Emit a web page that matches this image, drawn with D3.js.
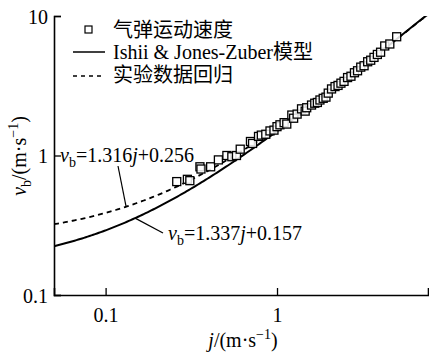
<!DOCTYPE html>
<html><head><meta charset="utf-8">
<script src="https://cdn.jsdelivr.net/npm/d3@7/dist/d3.min.js"></script>
</head>
<body style="margin:0;background:#fff"><svg id="c" width="429" height="353"></svg>
<script>
// Data
const jData  = [0.26,0.30,0.31,0.355,0.36,0.41,0.455,0.51,0.545,0.58,0.61,0.70,0.72,0.78,0.81,0.86,0.91,0.96,1.00,1.04,1.10,1.14,1.22,1.25,1.31,1.39,1.46,1.49,1.59,1.66,1.72,1.78,1.86,1.93,1.99,2.08,2.18,2.27,2.36,2.46,2.58,2.70,2.83,2.95,3.08,3.22,3.38,3.52,3.68,3.85,4.02,4.25,4.55,4.99];
const vbData = [0.65,0.675,0.66,0.83,0.80,0.83,0.93,1.00,0.98,1.00,1.11,1.26,1.22,1.37,1.40,1.42,1.50,1.52,1.61,1.66,1.72,1.68,1.95,1.85,1.98,2.16,2.08,2.20,2.30,2.37,2.40,2.50,2.57,2.62,2.80,3.00,3.12,3.18,3.30,3.40,3.62,3.70,3.92,4.05,4.30,4.40,4.70,4.82,5.05,5.30,5.50,6.10,6.30,7.10];
// Model lines: vb = a*j + b
const modelCoef = [1.337, 0.157];   // Ishii & Jones-Zuber (solid)
const regCoef   = [1.316, 0.256];   // regression (dashed)
const xTicks = [0.1, 1];
const yTicks = [0.1, 1, 10];
const legendLabels = ["气弹运动速度", "Ishii & Jones-Zuber模型", "实验数据回归"];

const FONT = "Liberation Serif";
const svg = d3.select("#c");
const L = 54, R = 428, T = 16, B = 295;
const x = d3.scaleLog().domain([0.05, 7.6]).range([L, R]);
const y = d3.scaleLog().domain([0.1, 10]).range([B, T]);

svg.append("defs").append("clipPath").attr("id","clip")
  .append("rect").attr("x",L).attr("y",T).attr("width",R-L).attr("height",B-T);

// curves
const jLine = d3.range(0, 201).map(i => 0.05 * Math.pow(7.6/0.05, i/200));
const lineGen = c => d3.line().x(d => x(d)).y(d => y(c[0]*d + c[1]))(jLine);
const g = svg.append("g").attr("clip-path","url(#clip)");
g.append("path").attr("d", lineGen(regCoef)).attr("fill","none").attr("stroke","#000")
  .attr("stroke-width",1.8).attr("stroke-dasharray","5,4");
g.append("path").attr("d", lineGen(modelCoef)).attr("fill","none").attr("stroke","#000")
  .attr("stroke-width",2);

// points
const s = 8;
svg.append("g").selectAll("rect").data(jData).join("rect")
  .attr("x",(d,i)=>x(d)-s/2).attr("y",(d,i)=>y(vbData[i])-s/2)
  .attr("width",s).attr("height",s).attr("fill","#fff").attr("fill-opacity",0.85)
  .attr("stroke","#000").attr("stroke-width",1.3);

// axes
const xa = svg.append("g").attr("transform",`translate(0,${B})`)
  .call(d3.axisBottom(x).tickValues(xTicks).tickSize(-7).tickPadding(13).tickFormat(d=>String(d)));
const ya = svg.append("g").attr("transform",`translate(${L},0)`)
  .call(d3.axisLeft(y).tickValues(yTicks).tickSize(-7).tickPadding(6).tickFormat(d=>String(d)));
[xa,ya].forEach(a=>{
  a.attr("font-family", FONT);
  a.select(".domain").attr("stroke","#000").attr("stroke-width",1.6);
  a.selectAll(".tick line").attr("stroke","#000").attr("stroke-width",1.3);
  a.selectAll(".tick text").attr("font-size",20);
});
ya.selectAll(".tick text").attr("dy","0.35em");

// axis titles
const xt = svg.append("text").attr("x",243).attr("y",347).attr("text-anchor","middle").attr("font-size",20);
xt.append("tspan").attr("font-style","italic").text("j");
xt.append("tspan").text("/(m·s");
xt.append("tspan").attr("dy",-8).attr("font-size",14).text("−1");
xt.append("tspan").attr("dy",8).text(")");

const yt = svg.append("text").attr("transform","translate(26,156) rotate(-90)").attr("text-anchor","middle").attr("font-size",20);
yt.append("tspan").attr("font-style","italic").text("v");
yt.append("tspan").attr("dy",5).attr("font-size",14).text("b");
yt.append("tspan").attr("dy",-5).text("/(m·s");
yt.append("tspan").attr("dy",-8).attr("font-size",14).text("−1");
yt.append("tspan").attr("dy",8).text(")");

// legend
const lg = svg.append("g");
lg.append("rect").attr("x",85).attr("y",26).attr("width",7).attr("height",7)
  .attr("fill","#fff").attr("stroke","#000").attr("stroke-width",1.2);
lg.append("line").attr("x1",73).attr("x2",105).attr("y1",52).attr("y2",52).attr("stroke","#000").attr("stroke-width",1.5);
lg.append("line").attr("x1",73).attr("x2",105).attr("y1",76).attr("y2",76).attr("stroke","#000").attr("stroke-width",1.5).attr("stroke-dasharray","4,4");
legendLabels.forEach((t,i)=>{
  lg.append("text").attr("x",113).attr("y",[37,59,82][i]).attr("font-size",20).text(t);
});

// annotations
function eq(xp, yp, a, b){
  const t = svg.append("text").attr("x",xp).attr("y",yp).attr("font-size",20);
  t.append("tspan").attr("font-style","italic").text("v");
  t.append("tspan").attr("dy",5).attr("font-size",14).text("b");
  t.append("tspan").attr("dy",-5).text("="+a);
  t.append("tspan").attr("font-style","italic").text("j");
  t.append("tspan").text("+"+b);
}
eq(60, 162, regCoef[0].toFixed(3), regCoef[1].toFixed(3));
eq(168, 240, modelCoef[0].toFixed(3), modelCoef[1].toFixed(3));
const jr = 0.1317, jm = 0.1486;
svg.append("line").attr("x1",118).attr("y1",166).attr("x2",x(jr)).attr("y2",y(regCoef[0]*jr+regCoef[1]))
  .attr("stroke","#000").attr("stroke-width",1.2);
svg.append("line").attr("x1",x(jm)).attr("y1",y(modelCoef[0]*jm+modelCoef[1])).attr("x2",163).attr("y2",233)
  .attr("stroke","#000").attr("stroke-width",1.2);

svg.selectAll("text, tspan").each(function(){
  this.style.setProperty("font-family", "'Liberation Serif', 'Noto Sans CJK SC'", "important");
});
svg.selectAll("text").attr("fill","#000");
</script></body></html>
